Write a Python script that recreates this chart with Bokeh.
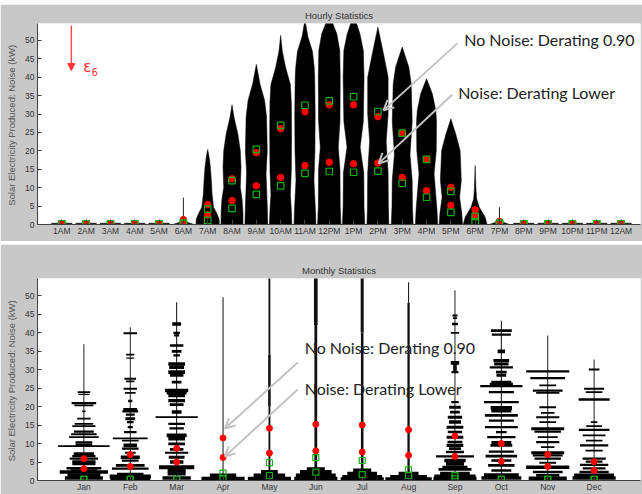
from bokeh.plotting import figure
from bokeh.models import Range1d, Label, Arrow, OpenHead, NormalHead, Spacer
from bokeh.layouts import column
from bokeh.embed import file_html
from bokeh.resources import INLINE

# ---------------- data ----------------
hour_labels = ["1AM", "2AM", "3AM", "4AM", "5AM", "6AM", "7AM", "8AM", "9AM", "10AM", "11AM", "12PM",
               "1PM", "2PM", "3PM", "4PM", "5PM", "6PM", "7PM", "8PM", "9PM", "10PM", "11PM", "12AM"]
month_labels = ["Jan", "Feb", "Mar", "Apr", "May", "Jun", "Jul", "Aug", "Sep", "Oct", "Nov", "Dec"]

# hourly markers (kW)
h_red_hi = [0.2, 0.2, 0.2, 0.2, 0.2, 1.3, 5.4, 12.4, 19.5, 26.0, 30.6, 32.5,
            32.5, 29.3, 24.8, 17.7, 10.1, 4.0, 0.8, 0.2, 0.2, 0.2, 0.2, 0.2]
h_red_lo = [0.2, 0.2, 0.2, 0.2, 0.2, 0.4, 2.6, 6.5, 10.5, 12.8, 16.0, 16.9,
            16.5, 16.7, 12.8, 9.2, 5.2, 2.2, 0.5, 0.2, 0.2, 0.2, 0.2, 0.2]
h_green_hi = [0.2, 0.2, 0.2, 0.2, 0.2, 0.4, 4.2, 11.9, 20.4, 26.9, 32.4, 33.6,
              34.7, 30.7, 24.8, 17.7, 9.0, 2.2, 0.3, 0.2, 0.2, 0.2, 0.2, 0.2]
h_green_lo = [0.2, 0.2, 0.2, 0.2, 0.2, 0.3, 1.1, 4.4, 8.2, 10.5, 13.9, 14.4,
              14.2, 14.5, 11.2, 7.4, 3.3, 0.7, 0.3, 0.2, 0.2, 0.2, 0.2, 0.2]

# hourly distribution outlines: levels (kW) and half widths (category units)
night_y = [0, 0.35]
night_w = [0.42, 0.42]
h06_y = [0, 0.4, 0.8, 2.0]
h06_w = [0.45, 0.25, 0.06, 0.02]
h07_y = [0, 1.5, 2.9, 4.7, 8.3, 12.0, 15.6, 18.3, 20.4]
h07_w = [0.48, 0.47, 0.38, 0.24, 0.18, 0.15, 0.11, 0.06, 0.0]
h08_y = [0, 3.0, 6.5, 10.1, 15.6, 20.1, 24.6, 29.2, 32.5]
h08_w = [0.45, 0.45, 0.42, 0.34, 0.37, 0.34, 0.24, 0.08, 0.0]
h09_y = [0, 5.0, 13.9, 20.0, 29.2, 33.7, 38.2, 43.5]
h09_w = [0.47, 0.45, 0.40, 0.45, 0.42, 0.34, 0.15, 0.0]
h10_y = [0, 4.0, 8.0, 15.0, 25.0, 33.0, 38.0, 42.8, 47.0, 51.4]
h10_w = [0.46, 0.44, 0.40, 0.44, 0.45, 0.44, 0.40, 0.20, 0.07, 0.0]
h11_y = [0, 4.0, 12.0, 20.0, 30.0, 40.0, 42.7, 47.0, 51.0, 55.5]
h11_w = [0.45, 0.43, 0.37, 0.41, 0.42, 0.40, 0.38, 0.31, 0.12, 0.0]
h12_y = [0, 5.0, 15.0, 21.0, 28.0, 40.0, 47.3, 51.8, 57.0]
h12_w = [0.48, 0.45, 0.44, 0.37, 0.44, 0.45, 0.43, 0.31, 0.0]
h13_y = [0, 5.0, 14.0, 21.0, 28.0, 40.0, 47.3, 51.8, 57.0]
h13_w = [0.46, 0.43, 0.42, 0.27, 0.40, 0.43, 0.40, 0.26, 0.0]
h14_y = [0, 5.0, 14.0, 22.6, 30.0, 40.0, 42.7, 47.3, 53.6]
h14_w = [0.45, 0.43, 0.42, 0.34, 0.42, 0.42, 0.34, 0.20, 0.0]
h15_y = [0, 5.0, 12.0, 19.0, 28.0, 38.2, 42.8, 48.2]
h15_w = [0.45, 0.42, 0.41, 0.32, 0.41, 0.37, 0.27, 0.0]
h16_y = [0, 4.0, 13.8, 20.0, 28.0, 31.0, 35.5, 39.6]
h16_w = [0.46, 0.43, 0.31, 0.40, 0.41, 0.38, 0.24, 0.0]
h17_y = [0, 3.0, 7.4, 12.0, 20.1, 24.6, 28.7]
h17_w = [0.48, 0.45, 0.36, 0.43, 0.38, 0.20, 0.0]
h18_y = [0, 1.0, 2.0, 4.7, 7.0, 10.0, 16.0]
h18_w = [0.49, 0.45, 0.41, 0.17, 0.06, 0.03, 0.0]
h19_y = [0, 0.3, 0.8]
h19_w = [0.42, 0.30, 0.05]
spike_hours = [6, 19]
spike_tops = [7.3, 4.7]

# monthly markers (kW)
m_red_hi = [5.9, 7.0, 8.7, 11.5, 14.1, 15.2, 15.0, 13.7, 12.0, 10.0, 7.0, 5.1]
m_red_lo = [3.2, 3.8, 5.0, 6.2, 7.4, 8.0, 7.7, 6.8, 6.5, 5.2, 3.8, 2.7]
m_green_hi = [0.3, 0.3, 0.3, 2.0, 4.8, 6.2, 5.4, 2.9, 1.3, 0.3, 0.3, 0.3]
m_green_lo = [0.3, 0.3, 0.3, 0.6, 1.35, 2.25, 1.6, 1.35, 0.45, 0.3, 0.3, 0.3]

# monthly histogram bars: level (kW), full width (category units), thickness (kW)
jan_y = [23.9, 23.3, 20.9, 20.3, 18.7, 16.7, 15.3, 14.7, 13.2, 12.5, 11.7, 10.4, 9.6, 9.3, 7.2, 6.6, 5.9, 5.1, 4.5, 3.3, 2.7, 2.3, 1.4, 0.7]
jan_w = [0.27, 0.24, 0.53, 0.41, 0.07, 0.29, 0.40, 0.50, 0.43, 0.55, 0.64, 0.36, 0.36, 1.11, 0.44, 0.50, 0.61, 0.50, 0.50, 0.75, 0.57, 1.04, 0.71, 0.82]
jan_t = [0.4, 0.3, 0.5, 0.4, 0.4, 0.4, 0.4, 0.4, 0.5, 0.5, 0.4, 0.4, 0.8, 0.4, 0.7, 0.5, 0.5, 0.6, 0.6, 0.6, 0.6, 0.8, 0.9, 0.8]
feb_y = [39.8, 34.0, 33.1, 27.5, 26.8, 24.8, 23.7, 21.5, 19.2, 18.7, 17.8, 16.7, 15.8, 14.4, 13.1, 11.4, 10.8, 9.5, 8.6, 7.5, 6.3, 5.4, 4.1, 3.2, 1.8, 1.1, 0.6]
feb_w = [0.29, 0.18, 0.17, 0.25, 0.18, 0.29, 0.23, 0.09, 0.30, 0.34, 0.19, 0.21, 0.14, 0.11, 0.27, 0.75, 0.36, 0.29, 0.36, 0.23, 0.41, 0.36, 0.62, 0.79, 0.57, 0.89, 0.86]
feb_t = [0.4, 0.4, 0.3, 0.4, 0.4, 0.4, 0.4, 0.6, 0.7, 0.5, 0.5, 0.7, 0.5, 0.5, 0.5, 0.4, 0.4, 0.8, 0.5, 0.5, 0.8, 0.5, 0.6, 0.5, 0.5, 0.9, 0.8]
mar_y = [42.3, 39.9, 39.2, 36.5, 34.9, 33.8, 31.5, 30.6, 29.3, 28.4, 26.6, 24.3, 23.7, 23.0, 21.6, 20.5, 18.5, 17.1, 15.3, 14.1, 12.2, 11.3, 9.9, 8.4, 7.5, 6.3, 5.0, 3.6, 2.7, 1.8, 0.7]
mar_w = [0.19, 0.14, 0.11, 0.29, 0.21, 0.14, 0.36, 0.32, 0.36, 0.29, 0.21, 0.50, 0.43, 0.36, 0.36, 0.30, 0.21, 0.91, 0.36, 0.31, 0.43, 0.36, 0.36, 0.29, 0.50, 0.34, 0.29, 0.76, 0.39, 0.39, 0.61]
mar_t = [0.8, 0.5, 0.5, 0.6, 0.6, 0.5, 0.8, 0.8, 0.8, 0.6, 0.6, 0.8, 0.8, 0.8, 0.7, 0.6, 0.8, 0.4, 0.5, 0.5, 0.8, 0.8, 0.6, 0.6, 0.5, 0.7, 0.8, 0.9, 0.8, 0.8, 0.8]
apr_y = [1.35, 0.45]
apr_w = [0.57, 0.93]
apr_t = [0.95, 0.95]
may_y = [2.25, 1.35, 0.45]
may_w = [0.36, 0.68, 0.93]
may_t = [0.95, 0.95, 0.95]
jun_y = [3.0, 2.25, 1.35, 0.45]
jun_w = [0.39, 0.68, 0.86, 0.93]
jun_t = [0.95, 0.95, 0.95, 0.95]
jul_y = [2.7, 1.8, 0.9, 0.3]
jul_w = [0.39, 0.64, 0.86, 0.93]
jul_t = [0.95, 0.95, 0.95, 0.95]
aug_y = [1.8, 0.9, 0.3]
aug_w = [0.43, 0.79, 1.0]
aug_t = [0.95, 0.95, 0.95]
sep_y = [44.6, 43.9, 42.3, 39.9, 31.8, 29.3, 21.2, 19.8, 18.5, 17.1, 15.8, 14.4, 13.1, 11.7, 10.4, 9.5, 8.6, 7.7, 6.5, 5.4, 4.5, 3.6, 3.0, 1.8, 1.1, 0.45]
sep_w = [0.11, 0.09, 0.13, 0.18, 0.18, 0.15, 0.16, 0.25, 0.21, 0.31, 0.26, 0.36, 0.31, 0.36, 0.32, 0.36, 0.26, 0.39, 0.82, 0.46, 0.39, 0.54, 0.71, 0.64, 0.89, 0.93]
sep_t = [0.5, 0.4, 0.6, 0.4, 0.8, 0.5, 0.5, 0.7, 0.6, 0.7, 0.8, 0.7, 0.6, 0.7, 0.6, 0.7, 0.6, 0.6, 0.5, 0.8, 0.8, 0.7, 0.6, 0.9, 0.9, 0.9]
oct_y = [40.5, 39.4, 34.9, 32.4, 31.5, 30.6, 29.3, 28.4, 26.4, 25.9, 25.5, 23.9, 21.2, 19.6, 18.9, 17.6, 16.2, 14.4, 13.1, 11.7, 10.2, 9.5, 7.8, 6.6, 5.4, 4.1, 2.7, 1.4, 0.7]
oct_w = [0.45, 0.41, 0.16, 0.34, 0.31, 0.50, 0.23, 0.21, 0.43, 0.50, 0.91, 0.54, 0.75, 0.46, 0.43, 0.71, 0.54, 0.71, 0.23, 0.61, 0.43, 0.47, 0.54, 0.68, 0.43, 0.57, 0.43, 0.75, 0.86]
oct_t = [0.6, 0.5, 0.8, 0.7, 0.7, 0.5, 0.6, 0.6, 0.9, 0.9, 0.5, 0.5, 0.5, 0.9, 0.9, 0.6, 0.5, 0.5, 0.5, 0.5, 0.8, 0.6, 0.5, 0.6, 0.6, 0.6, 0.6, 0.9, 0.8]
nov_y = [29.5, 27.7, 25.7, 24.3, 23.7, 19.8, 18.3, 17.1, 15.8, 14.0, 13.2, 11.7, 10.4, 9.0, 7.5, 6.8, 5.9, 4.8, 3.6, 2.3, 1.4, 0.6]
nov_w = [0.93, 0.75, 0.36, 0.64, 0.50, 0.36, 0.29, 0.50, 0.36, 0.71, 0.57, 0.43, 0.50, 0.29, 0.71, 0.64, 0.57, 0.36, 0.93, 0.64, 0.50, 0.82]
nov_t = [0.5, 0.5, 0.4, 0.5, 0.4, 0.4, 0.4, 0.5, 0.4, 0.7, 0.5, 0.4, 0.5, 0.4, 0.7, 0.5, 0.5, 0.4, 0.8, 0.6, 0.6, 0.8]
dec_y = [30.0, 24.8, 23.9, 21.9, 15.8, 14.7, 13.7, 12.2, 10.8, 9.5, 8.1, 5.9, 5.1, 4.2, 3.3, 2.3, 1.4, 0.7]
dec_w = [0.23, 0.43, 0.36, 0.67, 0.14, 0.34, 0.66, 0.49, 0.36, 0.61, 0.37, 0.50, 0.36, 0.61, 0.49, 0.63, 0.86, 0.93]
dec_t = [0.4, 0.4, 0.4, 0.6, 0.4, 0.4, 0.5, 0.4, 0.4, 0.5, 0.4, 0.5, 0.5, 0.5, 0.5, 0.6, 0.8, 0.8]

# monthly central spines: month, bottom, top (kW), width (category units)
spine_month = [1, 2, 3, 4, 5, 5, 5, 6, 6, 7, 7, 8, 8, 9, 9, 10, 11, 12]
spine_y0 = [0, 0, 0, 0, 0, 20, 34, 0, 42, 0, 40, 0, 48, 0, 29.3, 0, 0, 0]
spine_y1 = [36.8, 41.4, 48.2, 49.5, 20, 34, 56, 42, 56, 40, 56, 48, 53.6, 51.4, 31.8, 43.2, 39.2, 32.7]
spine_w = [0.02, 0.02, 0.022, 0.022, 0.04, 0.055, 0.04, 0.06, 0.08, 0.055, 0.065, 0.05, 0.022, 0.02, 0.08, 0.022, 0.02, 0.02]

# ---------------- styling ----------------
GRAY = "#c8c8c8"
AX = "#404040"
TXT = "#333333"
RED = "#ff0000"
GREEN = "#10b010"
ARROW = "#c3c3c3"
W = 642


def make_fig(title, x_end, height, b_top, b_bottom, ticks, labels):
    p = figure(width=W, height=height, x_range=Range1d(0, x_end), y_range=Range1d(0, 54.6),
               output_backend="svg", toolbar_location=None, title=title,
               min_border_left=36, min_border_right=2, min_border_top=b_top, min_border_bottom=b_bottom)
    p.border_fill_color = GRAY
    p.background_fill_color = "white"
    p.outline_line_color = None
    p.grid.visible = False
    p.title.align = "center"
    p.title.text_font = "Liberation Sans"
    p.title.text_font_size = "9.5px"
    p.title.text_font_style = "normal"
    p.title.text_color = TXT
    p.title.standoff = 5
    p.xaxis.ticker = ticks
    p.xaxis.major_label_overrides = {t: l for t, l in zip(ticks, labels)}
    p.yaxis.ticker = [0, 5, 10, 15, 20, 25, 30, 35, 40, 45, 50]
    for ax in (p.xaxis, p.yaxis):
        ax.axis_line_color = AX
        ax.major_tick_line_color = AX
        ax.minor_tick_line_color = None
        ax.major_tick_out = 0
        ax.major_label_text_font = "Liberation Sans"
        ax.major_label_text_font_size = "8.5px"
        ax.major_label_text_color = TXT
    p.xaxis.major_label_standoff = 1
    p.yaxis.major_label_standoff = 3
    p.xaxis.major_tick_in = 5
    p.yaxis.major_tick_in = 4
    p.yaxis.axis_label = "Solar Electricity Produced: Noise  (kW)"
    p.yaxis.axis_label_text_font = "Liberation Sans"
    p.yaxis.axis_label_text_font_size = "9.5px"
    p.yaxis.axis_label_text_font_style = "normal"
    p.yaxis.axis_label_text_color = "#555555"
    p.yaxis.axis_label_standoff = 5
    return p


hours = list(range(1, 25))
months = list(range(1, 13))

# ---------------- hourly ----------------
p1 = make_fig("Hourly Statistics", 24.8, 237, 19, 17, hours, hour_labels)

profiles = {6: (h06_y, h06_w), 7: (h07_y, h07_w), 8: (h08_y, h08_w), 9: (h09_y, h09_w),
            10: (h10_y, h10_w), 11: (h11_y, h11_w), 12: (h12_y, h12_w), 13: (h13_y, h13_w),
            14: (h14_y, h14_w), 15: (h15_y, h15_w), 16: (h16_y, h16_w), 17: (h17_y, h17_w),
            18: (h18_y, h18_w), 19: (h19_y, h19_w)}
vx, vy = [], []
for h in hours:
    ys, ws = profiles.get(h, (night_y, night_w))
    vx.append([h + w for w in ws] + [h - w for w in reversed(ws)])
    vy.append(list(ys) + list(reversed(ys)))
p1.patches(vx, vy, fill_color="black", line_color="black", line_width=0.5)
p1.segment(x0=spike_hours, y0=[0] * len(spike_hours), x1=spike_hours, y1=spike_tops,
           line_color="#222222", line_width=1)

p1.scatter(hours, h_red_hi, marker="circle", size=6.5, fill_color=RED, line_color=RED)
p1.scatter(hours, h_red_lo, marker="circle", size=6.5, fill_color=RED, line_color=RED)
p1.scatter(hours, h_green_hi, marker="square", size=6.5, fill_color=None, line_color=GREEN, line_width=1.2)
p1.scatter(hours, h_green_lo, marker="square", size=6.5, fill_color=None, line_color=GREEN, line_width=1.2)

p1.add_layout(Arrow(end=NormalHead(size=7, fill_color="#ff3030", line_color="#ff3030"),
                    x_start=1.39, y_start=54.0, x_end=1.39, y_end=41.8,
                    line_color="#ff5050", line_width=1.5))
p1.add_layout(Label(x=1.88, y=42.9, text="ε", text_color="#ff3030", text_font="DejaVu Sans",
                    text_font_size="15px", text_baseline="middle"))
p1.add_layout(Label(x=2.22, y=41.3, text="6", text_color="#ff3030", text_font="DejaVu Sans",
                    text_font_size="10px", text_baseline="middle"))

p1.add_layout(Arrow(end=OpenHead(size=10, line_color=ARROW, line_width=2),
                    x_start=17.27, y_start=49.2, x_end=14.23, y_end=31.0, line_color=ARROW, line_width=2))
p1.add_layout(Arrow(end=OpenHead(size=10, line_color=ARROW, line_width=2),
                    x_start=17.06, y_start=35.3, x_end=14.03, y_end=16.6, line_color=ARROW, line_width=2))
p1.add_layout(Label(x=17.55, y=50.2, text="No Noise: Derating 0.90", text_font="Lato",
                    text_font_size="16px", text_color="#222222", text_baseline="middle"))
p1.add_layout(Label(x=17.3, y=35.9, text="Noise: Derating Lower", text_font="Lato",
                    text_font_size="16px", text_color="#222222", text_baseline="middle"))

# ---------------- monthly ----------------
p2 = make_fig("Monthly Statistics", 13, 250, 34, 14, months, month_labels)
p2.min_border_left = 37

month_bars = [(jan_y, jan_w, jan_t), (feb_y, feb_w, feb_t), (mar_y, mar_w, mar_t),
              (apr_y, apr_w, apr_t), (may_y, may_w, may_t), (jun_y, jun_w, jun_t),
              (jul_y, jul_w, jul_t), (aug_y, aug_w, aug_t), (sep_y, sep_w, sep_t),
              (oct_y, oct_w, oct_t), (nov_y, nov_w, nov_t), (dec_y, dec_w, dec_t)]
bx, by, bw, bt = [], [], [], []
for m, (ys, ws, ts) in zip(months, month_bars):
    bx += [m] * len(ys)
    by += ys
    bw += ws
    bt += [t * 1.2 for t in ts]

p2.rect(x=spine_month, y=[(a + b) / 2 for a, b in zip(spine_y0, spine_y1)], width=spine_w,
        height=[b - a for a, b in zip(spine_y0, spine_y1)], fill_color="#111111", line_color=None)
p2.rect(x=bx, y=by, width=bw, height=bt, fill_color="black", line_color=None)

p2.scatter(months, m_red_hi, marker="circle", size=6, fill_color=RED, line_color=RED)
p2.scatter(months, m_red_lo, marker="circle", size=6, fill_color=RED, line_color=RED)
p2.scatter(months, m_green_hi, marker="square", size=6, fill_color=None, line_color=GREEN, line_width=1.2)
p2.scatter(months, m_green_lo, marker="square", size=6, fill_color=None, line_color=GREEN, line_width=1.2)

p2.add_layout(Arrow(end=OpenHead(size=10, line_color=ARROW, line_width=2),
                    x_start=5.61, y_start=31.9, x_end=4.04, y_end=14.05, line_color=ARROW, line_width=2))
p2.add_layout(Arrow(end=OpenHead(size=10, line_color=ARROW, line_width=2),
                    x_start=5.61, y_start=24.6, x_end=4.04, y_end=6.5, line_color=ARROW, line_width=2))
p2.add_layout(Label(x=5.76, y=35.9, text="No Noise: Derating 0.90", text_font="Lato",
                    text_font_size="16px", text_color="#222222", text_baseline="middle"))
p2.add_layout(Label(x=5.76, y=24.9, text="Noise: Derating Lower", text_font="Lato",
                    text_font_size="16px", text_color="#222222", text_baseline="middle"))

layout = column(Spacer(width=W, height=4), p1, Spacer(width=W, height=3), p2, spacing=0)
open("out.html", "w").write(file_html(layout, INLINE))
